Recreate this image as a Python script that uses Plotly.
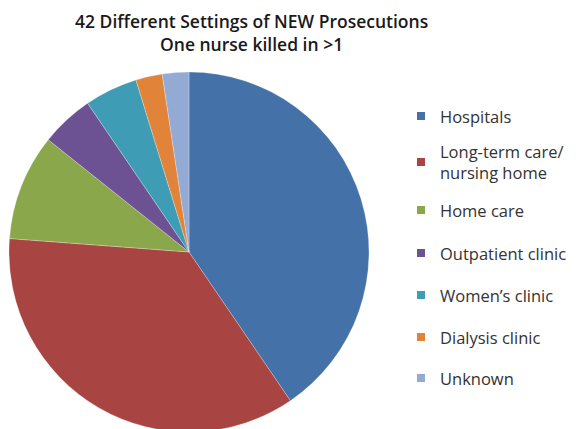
import plotly.graph_objects as go

labels = ["Hospitals", "Long-term care/<br>nursing home", "Home care", "Outpatient clinic",
          "Women\u2019s clinic", "Dialysis clinic", "Unknown"]
values = [17, 15, 4, 2, 2, 1, 1]
colors = ["#4472A8", "#A84542", "#8BA74B", "#6C5293", "#3E9CB5", "#E1843A", "#93AAD5"]
title_lines = ["42 Different Settings of NEW Prosecutions", "One nurse killed in >1"]

W, H = 579, 429
OFF = 8  # page body margin offset


def px(x):
    return (x - OFF) / W


def py(y):
    return 1 - (y - OFF) / H


fig = go.Figure(go.Pie(
    labels=[l.replace("<br>", " ") for l in labels], values=values, sort=False,
    direction="clockwise", rotation=0,
    marker=dict(colors=colors, line=dict(color="rgba(255,255,255,0.5)", width=0.5)),
    textinfo="none", hoverinfo="label+value", showlegend=False,
    domain=dict(x=[px(8), px(370)], y=[py(432), py(72)]),
))

fig.add_annotation(text="<br>".join(title_lines), x=px(251), y=py(8), xref="paper", yref="paper",
                   xanchor="center", yanchor="top", showarrow=False, borderpad=0,
                   font=dict(family="Open Sans", size=17.5, color="#1a1a1a", weight=600))

leg_y = [116, 162, 210, 253, 295, 337, 378]
for lab, col, yy in zip(labels, colors, leg_y):
    fig.add_shape(type="rect", xref="paper", yref="paper",
                  x0=px(417), x1=px(425), y0=py(yy + 4), y1=py(yy - 4),
                  fillcolor=col, line=dict(width=0))
    fig.add_annotation(text=lab, x=px(438), y=py(yy), xref="paper", yref="paper",
                       xanchor="left", yanchor="middle", align="left", showarrow=False,
                       font=dict(family="Open Sans", size=16.5, color="#333333"))

fig.update_layout(width=W, height=H, margin=dict(l=0, r=0, t=0, b=0),
                  paper_bgcolor="white", plot_bgcolor="white")
fig.write_html("out.html")
